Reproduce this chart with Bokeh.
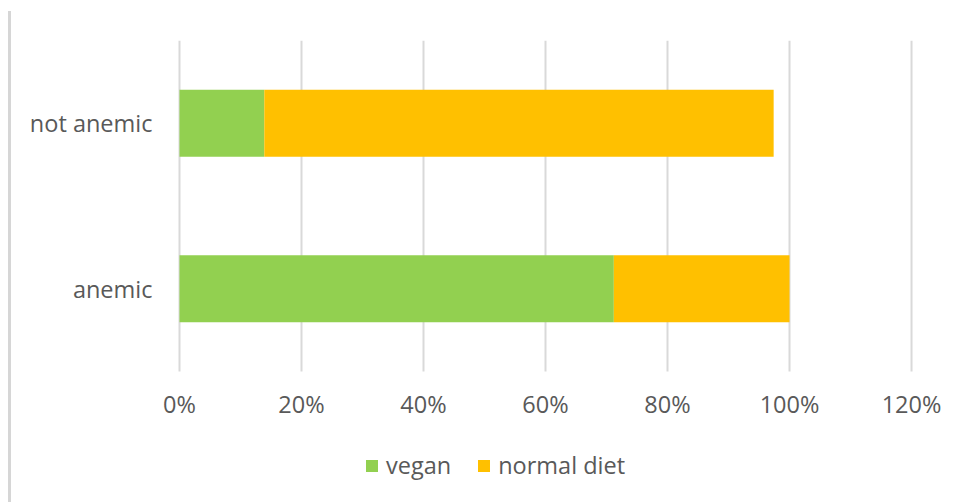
from bokeh.plotting import figure
from bokeh.models import ColumnDataSource, Legend, LegendItem, FixedTicker, NumeralTickFormatter, Range1d
from bokeh.embed import file_html
from bokeh.resources import INLINE

categories = ["anemic", "not anemic"]
series = ["vegan", "normal diet"]
vegan = [0.712, 0.139]
normal_diet = [0.288, 0.835]
colors = ["#92D050", "#FFC000"]
ticks = [0, 0.2, 0.4, 0.6, 0.8, 1.0, 1.2]

pos = [i + 0.5 for i in range(len(categories))]
src = ColumnDataSource(dict(pos=pos, vegan=vegan, normal_diet=normal_diet))

FONT = "Open Sans"
TXT = "#595959"
FS = "23.5px"

p = figure(x_range=Range1d(-0.031148, 1.2639), y_range=Range1d(-0.7795, 2), width=961, height=502,
           output_backend="svg", toolbar_location=None,
           min_border_left=160, min_border_right=11, min_border_top=40, min_border_bottom=2,
           border_fill_color=None, background_fill_color="white")
p.styles = {"background": "linear-gradient(to right, white 8px, #d6d6d6 8px, #d6d6d6 11px, white 11px)",
            "background-repeat": "no-repeat", "background-position": "0px 11px",
            "background-size": "12px 491px"}

p.xgrid.grid_line_color = None
p.ygrid.grid_line_color = None
p.segment(x0=ticks, y0=[0] * len(ticks), x1=ticks, y1=[2] * len(ticks),
          line_color="#d9d9d9", line_width=2)

rs = p.hbar_stack(["vegan", "normal_diet"], y="pos", height=0.405, color=colors,
                  source=src, line_color=None)

p.outline_line_color = None
p.xaxis.ticker = FixedTicker(ticks=ticks)
p.xaxis.formatter = NumeralTickFormatter(format="0%")
p.xaxis.fixed_location = 0
p.yaxis.ticker = FixedTicker(ticks=pos)
p.yaxis.major_label_overrides = {pos[i]: categories[i] for i in range(len(categories))}
for ax in (p.xaxis, p.yaxis):
    ax.axis_line_color = None
    ax.major_tick_line_color = None
    ax.minor_tick_line_color = None
    ax.major_label_text_font = FONT
    ax.major_label_text_font_size = FS
    ax.major_label_text_color = TXT
p.xaxis.major_label_standoff = 11
p.yaxis.major_label_standoff = 2

legend = Legend(items=[LegendItem(label=series[i], renderers=[rs[i]]) for i in range(2)],
                orientation="horizontal", location=(204, 19),
                label_text_font=FONT, label_text_font_size=FS, label_text_color=TXT,
                glyph_width=15, glyph_height=15, label_standoff=7, spacing=25,
                border_line_color=None, background_fill_alpha=0, margin=0, padding=4)
p.add_layout(legend, "center")

open("out.html", "w").write(file_html(p, INLINE))
